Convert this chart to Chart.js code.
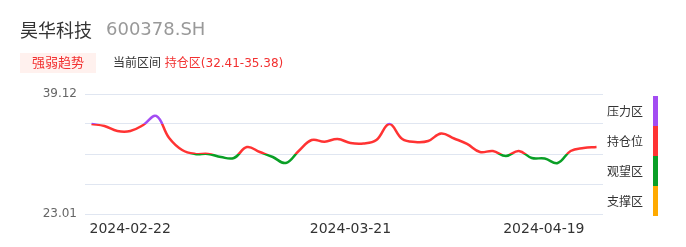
<!DOCTYPE html>
<html>
<head>
<meta charset="utf-8">
<script src="https://cdn.jsdelivr.net/npm/chart.js@4"></script>
<style>
  html, body { margin: 0; padding: 0; background: #fff; }
  body { width: 686px; height: 247px; position: relative; overflow: hidden; font-family: "DejaVu Sans", "Noto Sans CJK SC", sans-serif; }
  #wrap { position: absolute; left: 0; top: 0; width: 686px; height: 247px; }
  .name { position: absolute; left: 20px; top: 17px; font-size: 18px; color: #333; line-height: 24px; font-family: "Noto Sans CJK SC", sans-serif; }
  .code { position: absolute; left: 106px; top: 17px; font-size: 18px; color: #999; line-height: 24px; }
  .badge { position: absolute; left: 20px; top: 53px; width: 76px; height: 20px; background: #fff1ee; color: #f23030; font-size: 13px; line-height: 20px; text-align: center; }
  .range { position: absolute; left: 113px; top: 53px; font-size: 12px; line-height: 20px; color: #333; }
  .range span { color: #f23030; }
  .legend { position: absolute; left: 607px; font-size: 12px; color: #333; line-height: 16px; }
  .bar { position: absolute; left: 653px; width: 5px; height: 30px; }
</style>
</head>
<body>
<div id="wrap"><canvas id="trendChart"></canvas></div>
<div class="name">昊华科技</div>
<div class="code">600378.SH</div>
<div class="badge">强弱趋势</div>
<div class="range">当前区间 <span>持仓区(32.41-35.38)</span></div>
<div id="legendBox"></div>
<script>
// --- data ---
const dates = [
  '2024-02-22', '2024-02-23', '2024-02-26', '2024-02-27', '2024-02-28', '2024-02-29',
  '2024-03-01', '2024-03-04', '2024-03-05', '2024-03-06', '2024-03-07', '2024-03-08',
  '2024-03-11', '2024-03-12', '2024-03-13', '2024-03-14', '2024-03-15', '2024-03-18',
  '2024-03-19', '2024-03-20', '2024-03-21', '2024-03-22', '2024-03-25', '2024-03-26',
  '2024-03-27', '2024-03-28', '2024-03-29', '2024-04-01', '2024-04-02', '2024-04-03',
  '2024-04-08', '2024-04-09', '2024-04-10', '2024-04-11', '2024-04-12', '2024-04-15',
  '2024-04-16', '2024-04-17', '2024-04-18', '2024-04-19'
];
const prices = [
  35.09, 34.82, 34.15, 34.15, 34.96, 36.17, 33.21, 31.60, 31.07, 31.07,
  30.66, 30.53, 32.00, 31.33, 30.66, 29.86, 31.47, 32.94, 32.72, 33.08,
  32.54, 32.47, 32.94, 35.09, 33.08, 32.68, 32.81, 33.82, 33.15, 32.41,
  31.33, 31.47, 30.80, 31.47, 30.53, 30.46, 29.86, 31.47, 31.87, 32.00
];
const yMin = 23.01;
const yMax = 39.12;
const shownDates = ['2024-02-22', '2024-03-21', '2024-04-19'];
const zoneNames = ['压力区', '持仓位', '观望区', '支撑区'];
const zoneColors = ['#a34cf2', '#ff3333', '#0a9f26', '#ffaa00'];

const gridColor = '#e0e6f1';

// --- right legend ---
const legendBox = document.getElementById('legendBox');
zoneNames.forEach((name, i) => {
  const t = document.createElement('div');
  t.className = 'legend';
  t.style.top = (103 + i * 30) + 'px';
  t.style.fontFamily = '"Noto Sans CJK SC", sans-serif';
  t.textContent = name;
  legendBox.appendChild(t);
  const b = document.createElement('div');
  b.className = 'bar';
  b.style.top = (96 + i * 30) + 'px';
  b.style.background = zoneColors[i];
  legendBox.appendChild(b);
});

// zone gradient: hard colour bands at the four grid intervals
function zoneGradient(context) {
  const chart = context.chart;
  const area = chart.chartArea;
  if (!area) return zoneColors[1];
  const g = chart.ctx.createLinearGradient(0, area.top, 0, area.bottom);
  zoneColors.forEach((c, i) => {
    g.addColorStop(i / 4, c);
    g.addColorStop((i + 1) / 4 - 0.0001, c);
  });
  return g;
}

// x labels: first left-aligned, middle centered, last right-aligned
const dateLabels = {
  id: 'dateLabels',
  afterDraw(chart) {
    const ctx = chart.ctx;
    const xs = chart.scales.x;
    ctx.save();
    ctx.font = '14px "DejaVu Sans"';
    ctx.fillStyle = '#333';
    ctx.textBaseline = 'middle';
    shownDates.forEach((d, k) => {
      const idx = dates.indexOf(d);
      let x = xs.getPixelForValue(idx);
      if (k === 0) { ctx.textAlign = 'left'; x -= 2; }
      else if (k === shownDates.length - 1) { ctx.textAlign = 'right'; x -= 12; }
      else ctx.textAlign = 'center';
      ctx.fillText(d, x, 229);
    });
    ctx.restore();
  }
};

new Chart(document.getElementById('trendChart').getContext('2d'), {
  type: 'line',
  data: {
    labels: dates,
    datasets: [{
      data: prices,
      borderColor: zoneGradient,
      borderWidth: 2.5,
      pointRadius: 0,
      tension: 0.4,
      fill: false
    }]
  },
  options: {
    responsive: true,
    maintainAspectRatio: false,
    animation: false,
    layout: { padding: { top: 94, right: 83, bottom: 33, left: 0 } },
    scales: {
      x: { type: 'category', offset: true, display: false },
      y: {
        min: yMin,
        max: yMax,
        afterBuildTicks: s => {
          const step = (yMax - yMin) / 4;
          s.ticks = [0, 1, 2, 3, 4].map(i => ({ value: yMin + i * step }));
        },
        afterFit: s => { s.width = 85; },
        border: { display: false },
        grid: { color: gridColor, drawTicks: false, lineWidth: 1 },
        ticks: {
          padding: 8,
          color: '#666',
          font: { family: 'DejaVu Sans', size: 12 },
          callback: v => (Math.abs(v - yMin) < 1e-6 ? yMin.toFixed(2) : Math.abs(v - yMax) < 1e-6 ? yMax.toFixed(2) : '')
        }
      }
    },
    plugins: { legend: { display: false }, tooltip: { enabled: false } }
  },
  plugins: [dateLabels]
});
</script>
</body>
</html>
